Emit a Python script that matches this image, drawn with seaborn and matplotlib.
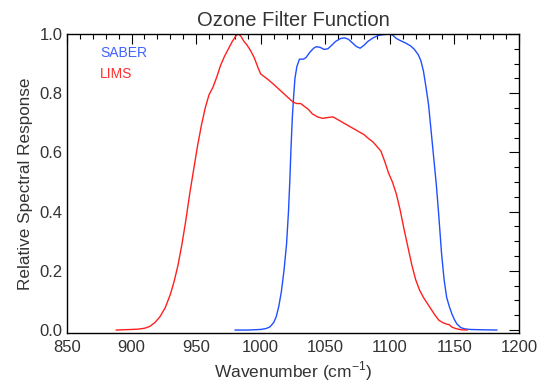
import numpy as np
import pandas as pd
import matplotlib
matplotlib.use("Agg")
import matplotlib.pyplot as plt
from matplotlib.ticker import MultipleLocator
import seaborn as sns

# ---- data ----
lims_wn = [888, 900, 905, 910, 914, 918, 922, 926, 930, 933, 936, 939, 942, 945, 948,
           951, 954, 957, 960, 963, 966, 969, 972, 975, 978, 981, 983, 985, 987, 989,
           992, 995, 998, 1000, 1003, 1006, 1010, 1015, 1020, 1025, 1028, 1031, 1034,
           1037, 1040, 1044, 1048, 1052, 1056, 1060, 1064, 1068, 1072, 1076, 1080, 1084,
           1087, 1090, 1093, 1096, 1099, 1102, 1105, 1108, 1111, 1114, 1117, 1120, 1123,
           1126, 1129, 1132, 1135, 1138, 1141, 1144, 1146, 1148, 1151, 1155, 1160]
lims_resp = [0.0, 0.002, 0.003, 0.006, 0.012, 0.025, 0.045, 0.075, 0.12, 0.165, 0.22,
             0.29, 0.37, 0.46, 0.54, 0.62, 0.69, 0.75, 0.795, 0.82, 0.855, 0.895, 0.925,
             0.95, 0.975, 0.995, 1.0, 0.99, 0.975, 0.965, 0.945, 0.92, 0.885, 0.865, 0.855,
             0.845, 0.83, 0.81, 0.79, 0.77, 0.765, 0.765, 0.755, 0.745, 0.73, 0.72, 0.715,
             0.718, 0.72, 0.71, 0.70, 0.69, 0.68, 0.67, 0.66, 0.645, 0.635, 0.62, 0.605,
             0.57, 0.53, 0.50, 0.46, 0.405, 0.34, 0.28, 0.22, 0.17, 0.135, 0.11, 0.09,
             0.07, 0.05, 0.033, 0.025, 0.02, 0.018, 0.01, 0.005, 0.001, 0.0]

saber_wn = [980, 990, 995, 1000, 1004, 1007, 1010, 1012, 1014, 1016, 1018, 1020, 1021.5,
            1022.5, 1023.5, 1024.5, 1025.5, 1026.5, 1028, 1030, 1033, 1035, 1038, 1041,
            1043, 1046, 1049, 1052, 1055, 1058, 1062, 1065, 1068, 1071, 1074, 1077, 1080,
            1083, 1087, 1091, 1095, 1099, 1102, 1105, 1108, 1112, 1116, 1119, 1122, 1124,
            1126, 1128, 1130, 1132, 1134, 1136, 1138, 1140, 1142, 1144, 1146, 1148, 1150,
            1152, 1155, 1158, 1162, 1170, 1183]
saber_resp = [0.0, 0.0, 0.001, 0.002, 0.005, 0.01, 0.025, 0.045, 0.08, 0.13, 0.2, 0.29,
              0.4, 0.5, 0.62, 0.72, 0.79, 0.85, 0.89, 0.915, 0.915, 0.92, 0.938, 0.952,
              0.957, 0.955, 0.948, 0.95, 0.962, 0.975, 0.985, 0.987, 0.982, 0.97, 0.958,
              0.952, 0.962, 0.975, 0.987, 0.995, 0.998, 1.0, 0.997, 0.985, 0.978, 0.97,
              0.96, 0.948, 0.93, 0.91, 0.875, 0.82, 0.76, 0.67, 0.58, 0.49, 0.38, 0.26,
              0.17, 0.11, 0.08, 0.055, 0.035, 0.02, 0.008, 0.004, 0.002, 0.001, 0.0]

instruments = ["SABER", "LIMS"]
line_colors = {"SABER": "#1f4fff", "LIMS": "#ff1f1f"}
text_colors = {"SABER": "#3f63ff", "LIMS": "#ff3030"}

df = pd.concat([
    pd.DataFrame({"wn": saber_wn, "resp": saber_resp, "inst": "SABER"}),
    pd.DataFrame({"wn": lims_wn, "resp": lims_resp, "inst": "LIMS"}),
])

sns.set_style("white")
plt.rcParams["font.family"] = ["Liberation Sans", "DejaVu Sans"]
plt.rcParams["mathtext.fontset"] = "custom"
plt.rcParams["mathtext.rm"] = "Liberation Sans"
txt = "#333333"

fig = plt.figure(figsize=(5.39, 3.86), dpi=100)
ax = fig.add_axes([67/539, 1 - 333/386, (519-67)/539, (333-34)/386])

sns.lineplot(data=df, x="wn", y="resp", hue="inst", palette=line_colors,
             hue_order=instruments, legend=False, ax=ax, linewidth=1.0, sort=False)

ax.set_xlim(850, 1200)
ax.set_ylim(-0.01, 1.0)
ax.xaxis.set_major_locator(MultipleLocator(50))
ax.xaxis.set_minor_locator(MultipleLocator(10))
ax.yaxis.set_major_locator(MultipleLocator(0.2))
ax.yaxis.set_minor_locator(MultipleLocator(0.05))
ax.yaxis.set_major_formatter(matplotlib.ticker.FormatStrFormatter("%.1f"))
ax.tick_params(which="both", direction="in", top=True, right=True, colors="black",
               labelcolor=txt, labelsize=12, width=0.8)
ax.tick_params(which="major", length=7)
ax.tick_params(which="minor", length=3.5)
ax.tick_params(axis="x", which="major", pad=5)
ax.tick_params(axis="y", which="major", pad=3)
for s in ax.spines.values():
    s.set_color("black")
    s.set_linewidth(1.0)

ax.set_xlabel("Wavenumber (cm$^{\\mathregular{-1}}$)", fontsize=12.5, color=txt, labelpad=3)
ax.set_ylabel("Relative Spectral Response", fontsize=12.3, color=txt, labelpad=5)
ax.set_title("Ozone Filter Function", fontsize=14.5, color=txt, pad=6)

ax.text(0.073, 0.935, "SABER", transform=ax.transAxes, color=text_colors["SABER"],
        fontsize=10, va="center", ha="left")
ax.text(0.073, 0.865, "LIMS", transform=ax.transAxes, color=text_colors["LIMS"],
        fontsize=10, va="center", ha="left")

fig.savefig("out.png", dpi=100)
